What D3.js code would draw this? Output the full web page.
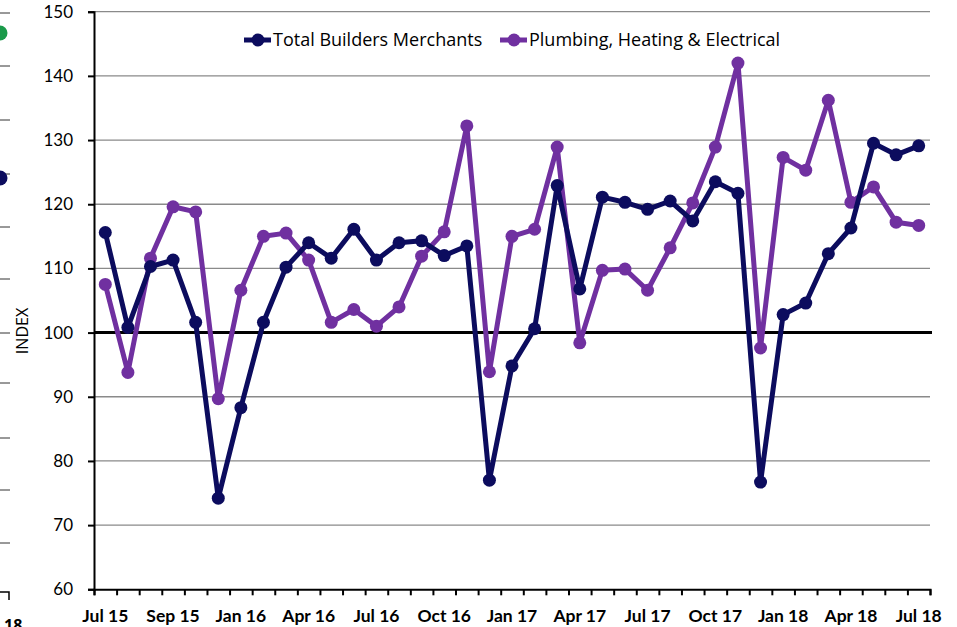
<!DOCTYPE html>
<html>
<head>
<meta charset="utf-8">
<script src="https://cdn.jsdelivr.net/npm/d3@7"></script>
<style>
  body { margin: 0; background: #fff; }
  svg { display: block; font-family: 'Open Sans', Lato, sans-serif; }
</style>
</head>
<body>
<svg width="957" height="627"></svg>
<script>
// monthly categories, Jul 15 .. Jul 18
let months = [
  'Jul 15','Aug 15','Sep 15','Oct 15','Nov 15','Dec 15',
  'Jan 16','Feb 16','Mar 16','Apr 16','May 16','Jun 16','Jul 16','Aug 16','Sep 16','Oct 16','Nov 16','Dec 16',
  'Jan 17','Feb 17','Mar 17','Apr 17','May 17','Jun 17','Jul 17','Aug 17','Sep 17','Oct 17','Nov 17','Dec 17',
  'Jan 18','Feb 18','Mar 18','Apr 18','May 18','Jun 18','Jul 18'
];

// labels shown every third month (as printed on the original)
let tickLabels = ['Jul 15','Sep 15','Jan 16','Apr 16','Jul 16','Oct 16','Jan 17',
                  'Apr 17','Jul 17','Oct 17','Jan 18','Apr 18','Jul 18'];

let totalMerchants = [
  115.6, 100.8, 110.3, 111.3, 101.6, 74.2,
  88.3, 101.6, 110.2, 114.0, 111.6, 116.1, 111.3, 114.0, 114.3, 112.0, 113.5, 77.0,
  94.8, 100.6, 122.9, 106.8, 121.1, 120.3, 119.2, 120.5, 117.4, 123.5, 121.7, 76.7,
  102.8, 104.6, 112.3, 116.3, 129.5, 127.7, 129.1
];

let plumbing = [
  107.5, 93.8, 111.6, 119.6, 118.8, 89.7,
  106.6, 115.0, 115.5, 111.3, 101.6, 103.6, 101.0, 104.0, 111.9, 115.7, 132.2, 93.9,
  115.0, 116.1, 128.9, 98.4, 109.7, 109.9, 106.6, 113.2, 120.2, 128.9, 142.0, 97.6,
  127.3, 125.3, 136.2, 120.3, 122.7, 117.2, 116.7
];

let seriesNames = ['Total Builders Merchants', 'Plumbing, Heating & Electrical'];
let seriesColors = ['#0c0c5e', '#7030a0'];
let yTicks = [60, 70, 80, 90, 100, 110, 120, 130, 140, 150];

let svg = d3.select('svg');

let plot = {l: 94, r: 930, t: 11.7, b: 589.3};

let xScale = d3.scaleBand().domain(months).range([plot.l, plot.r]).padding(0);
let xEdge = d3.scaleLinear().domain([0, months.length]).range([plot.l, plot.r]);
let yScale = d3.scaleLinear().domain([60, 150]).range([plot.b, plot.t]);

let cx = d => xScale(d) + xScale.bandwidth() / 2;

// leftover bits of a neighbouring chart at the left edge
let edge = svg.append('g');
[13, 66, 120, 174, 227, 279, 333, 383, 438, 490, 543].forEach(y => {
  edge.append('line').attr('x1', 0).attr('x2', 10).attr('y1', y).attr('y2', y)
    .attr('stroke', '#333').attr('stroke-width', 1);
});
edge.append('circle').attr('cx', 0).attr('cy', 33).attr('r', 7.5).attr('fill', '#1a9a4a');
edge.append('circle').attr('cx', 0).attr('cy', 178).attr('r', 7.5).attr('fill', '#0c0c5e');
edge.append('path').attr('d', 'M0,592 H9 V600').attr('fill', 'none').attr('stroke', '#000').attr('stroke-width', 1.5);
edge.append('text').attr('x', 4).attr('y', 631).text('18')
  .attr('font-size', 16).attr('font-weight', 'bold').attr('fill', '#000');

// gridlines
svg.append('g')
  .selectAll('line')
  .data(yTicks.filter(v => v !== 60 && v !== 100))
  .join('line')
  .attr('x1', plot.l).attr('x2', plot.r)
  .attr('y1', d => yScale(d)).attr('y2', d => yScale(d))
  .attr('stroke', '#8a8a8a').attr('stroke-width', 1.3);

// y axis
let yAxis = svg.append('g')
  .attr('transform', 'translate(' + plot.l + ',0)')
  .call(d3.axisLeft(yScale).tickValues(yTicks).tickSize(6).tickPadding(15));
yAxis.select('.domain').attr('stroke', '#000').attr('stroke-width', 2);
yAxis.selectAll('.tick line').attr('stroke', '#000').attr('stroke-width', 2);
yAxis.selectAll('.tick text').attr('font-size', 17).attr('fill', '#000')
  .attr('font-family', 'Lato, sans-serif');

// x axis: ticks between the months
let xAxis = svg.append('g')
  .attr('transform', 'translate(0,' + plot.b + ')')
  .call(d3.axisBottom(xEdge).tickValues(d3.range(months.length + 1)).tickSize(6).tickFormat(''));
xAxis.select('.domain').attr('stroke', '#000').attr('stroke-width', 2);
xAxis.selectAll('.tick line').attr('stroke', '#000').attr('stroke-width', 2);

svg.append('g')
  .selectAll('text')
  .data(tickLabels)
  .join('text')
  .attr('x', (d, i) => cx(months[i * 3]))
  .attr('y', 622)
  .attr('text-anchor', 'middle')
  .attr('font-family', 'Lato, sans-serif')
  .attr('font-size', 17.5)
  .attr('font-weight', 'bold')
  .attr('fill', '#000')
  .text(d => d);

// reference line at 100
svg.append('line')
  .attr('x1', plot.l).attr('x2', 932)
  .attr('y1', yScale(100)).attr('y2', yScale(100))
  .attr('stroke', '#000').attr('stroke-width', 3);

// y axis title
svg.append('text')
  .attr('transform', 'translate(28,331) rotate(-90)')
  .attr('text-anchor', 'middle')
  .attr('font-size', 16)
  .attr('fill', '#000')
  .text('INDEX');

// series
let line = d3.line().x((d, i) => cx(months[i])).y(d => yScale(d));

[plumbing, totalMerchants].forEach((vals, k) => {
  let color = k === 0 ? seriesColors[1] : seriesColors[0];
  let g = svg.append('g');
  g.append('path')
    .datum(vals)
    .attr('d', line)
    .attr('fill', 'none')
    .attr('stroke', color)
    .attr('stroke-width', 5)
    .attr('stroke-linejoin', 'round');
  g.selectAll('circle')
    .data(vals)
    .join('circle')
    .attr('cx', (d, i) => cx(months[i]))
    .attr('cy', d => yScale(d))
    .attr('r', 6.5)
    .attr('fill', color);
});

// legend
let legendX = [244, 500];
seriesNames.forEach((name, i) => {
  let g = svg.append('g').attr('transform', 'translate(' + legendX[i] + ',40)');
  g.append('line').attr('x1', 0).attr('x2', 27).attr('y1', 0).attr('y2', 0)
    .attr('stroke', seriesColors[i]).attr('stroke-width', 5);
  g.append('circle').attr('cx', 14).attr('cy', 0).attr('r', 6.5).attr('fill', seriesColors[i]);
  g.append('text').attr('x', 29).attr('y', 6)
    .attr('font-size', 18).attr('fill', '#000').text(name);
});
</script>
</body>
</html>
